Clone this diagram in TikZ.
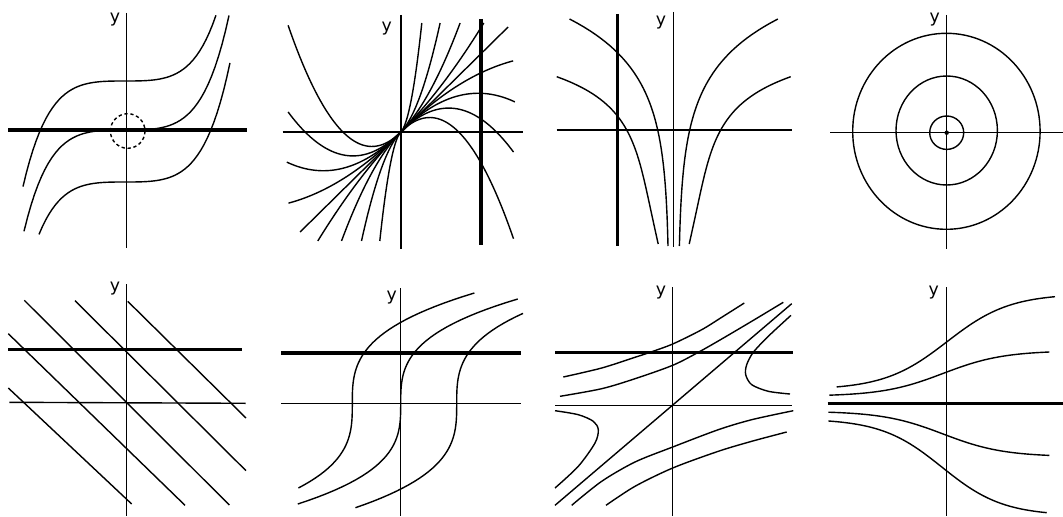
\documentclass[tikz,border=0pt]{standalone}
\usepackage{fontspec}
\setmainfont{DejaVu Sans}
\begin{document}
\begin{tikzpicture}[x=0.75pt,y=-0.75pt,
  ax/.style={line width=1.05pt},
  cv/.style={line width=1.05pt},
  bold/.style={line width=2.6pt},
  lbl/.style={inner sep=0pt, font=\fontsize{13}{14}\selectfont}]
\useasboundingbox (0,0) rectangle (1063,517);

% ---------- Panel 1 ----------
\node[lbl] (ly1) at (115,19.7) {y};
\draw[ax] (126.7,13) -- (126.7,248);
\draw[bold] (8.3,130) -- (246.7,130);
\foreach \yc/\a/\b in {81/-1.02/0.91, 130/-1.01/1.04, 182/-0.86/1.05}
  \draw[cv] plot[domain=\a:\b, samples=60, variable=\t]
    ({125+100*\t},{\yc-(40.3*\t*\t*\t+56.9*\t*\t*\t*\t*\t)});
\draw[cv, dash pattern=on 2.5pt off 2pt] (127.7,131) circle [radius=17.3];

% ---------- Panel 2 ----------
\node[lbl] (ly2) at (386.7,28.3) {y};
\draw[ax] (400.8,15) -- (400.8,249);
\draw[ax] (282.7,132) -- (523,132);
\draw[bold] (481,19) -- (481,245);
\begin{scope}[shift={(400.8,132)}, yscale=-1]
  \foreach \c/\e in {0.1995/21, 0.0451/39.3, 0.01413/59.3, 0.00377/83,
                     -0.00327/112.3, -0.00646/114, -0.01045/112.7, -0.01727/112.7} {
    \draw[cv] plot[domain=0:\e, samples=50, variable=\t] ({\t},{\t+(\c)*\t*\t});
    \draw[cv] plot[domain=0:\e, samples=50, variable=\t] ({-\t},{-\t-(\c)*\t*\t});
  }
  \coordinate (l2a) at (-100.7,-100);
  \coordinate (l2b) at (107.3,105);
  \draw[cv] (l2a) -- (l2b);
\end{scope}

% ---------- Panel 3 ----------
\node[lbl] (ly3) at (661,23) {y};
\draw[ax] (673.7,12) -- (673.7,247);
\draw[ax] (556.7,130) -- (792,130);
\draw[bold] (617.3,14) -- (617.3,246);
\begin{scope}[shift={(673.7,130)}, yscale=-1]
  \foreach \s in {1,-1} {
    \begin{scope}[xscale=\s]
      \draw[cv] plot[domain=-116:111, samples=60, variable=\t] ({4.5+11.5*exp(\t/51.4)},{\t});
      \draw[cv] plot[domain=-114:53.3, samples=60, variable=\t]
        ({exp(3.85+1.172*(\t/100)+0.745*(\t/100)*(\t/100)+0.5*(\t/100)*(\t/100)*(\t/100))},{\t});
    \end{scope}
  }
\end{scope}

% ---------- Panel 4 ----------
\node[lbl] (ly4) at (934.7,20) {y};
\draw[ax] (946.7,15) -- (946.7,249);
\draw[ax] (830,132.7) -- (1062.7,132.7);
\draw[cv] (946.4,131.3) ellipse [x radius=93.7, y radius=98];
\draw[cv] (946.7,130.5) ellipse [x radius=50.7, y radius=54.5];
\draw[cv] (946.7,132.7) ellipse [x radius=17, y radius=16.7];
\fill (946.7,132.7) circle [radius=2.2];

% ---------- Panel 5 ----------
\node[lbl] (ly5) at (115,288.7) {y};
\draw[ax] (126.7,284) -- (126.7,516);
\draw[ax] (9.3,402.3) -- (245.7,403.3);
\draw[bold] (8.3,349.7) -- (242.3,349.7);
\draw[cv] (8.3,388) -- (131.7,504);
\draw[cv] (8.3,333.7) -- (185,505.3);
\draw[cv] (24.3,300.3) -- (229.3,505);
\draw[cv] (75,300.7) -- (246,470.7);
\draw[cv] (127.7,301.3) -- (246,418);

% ---------- Panel 6 ----------
\node[lbl] (ly6) at (391.7,297.7) {y};
\draw[ax] (400.7,288) -- (400.7,516);
\draw[ax] (281,403.7) -- (521,403.7);
\draw[bold] (281,353) -- (521,353);
\begin{scope}[shift={(400.7,403.7)}, yscale=-1]
  \foreach \cx/\A/\a/\b in {-48.4/90/-84.3/110.7, 0/102/-100.3/104.7, 56/90/-104/90.3}
    \draw[cv] plot[domain=\a:\b, samples=60, variable=\t]
      ({\cx+\A*(\t/100)*(\t/100)*(\t/100)},{\t});
\end{scope}

% ---------- Panel 7 ----------
\node[lbl] (ly7) at (661,292.3) {y};
\draw[ax] (672.7,287.3) -- (672.7,516);
\draw[ax] (555,405.3) -- (791.7,405.3);
\draw[bold] (555,352.3) -- (793.3,352.3);
\draw[cv] plot[smooth] coordinates {(563.3,377) (601.7,368) (635,357.3) (650,352.3)
      (672.7,344) (701.7,329.7) (721.7,317.3) (744.3,303)};
\draw[cv] plot[smooth] coordinates {(560,396.3) (601.7,388.7) (635,378.7) (672.7,365.3)
      (698.3,352.3) (721.7,339) (751.7,321.3) (783.3,302.3)};
\coordinate (l7a) at (555,505.3);
\coordinate (l7b) at (791.7,303.7);
\draw[cv] (l7a) -- (l7b);
\draw[cv] plot[smooth] coordinates {(791,315.3) (768.3,336.3) (753.3,352.3) (746.7,364.7)
      (745.7,374.7) (751.7,384.7) (768.3,391.3) (790,394)};
\draw[cv] plot[smooth] coordinates {(555,410.7) (578.3,414.7) (593.3,421.3) (598.3,429.7)
      (595,443) (578.3,466.3) (555,488)};
\draw[cv] plot[smooth] coordinates {(571.7,505.3) (601.7,481.3) (635,462) (672.7,447)
      (718.3,429.7) (751.7,419.7) (793.3,410.7)};
\draw[cv] plot[smooth] coordinates {(606,505.3) (635,486.3) (672.7,468) (718.3,451.3)
      (751.7,441.3) (786.7,432)};

% ---------- Panel 8 ----------
\node[lbl] (ly8) at (933.7,293) {y};
\draw[ax] (946.7,287.3) -- (946.7,516);
\draw[bold] (827.7,403.7) -- (1062.7,403.7);
\draw[cv] plot[domain=836.7:1055, samples=70]
  ({\x},{403.7-(14+96/(1+exp(-(\x-947)/31.4)))});
\draw[cv] plot[domain=829.3:1049.3, samples=70]
  ({\x},{403.7-(7.5+45.5/(1+exp(-(\x-943)/30.2)))});
\draw[cv] plot[domain=828.3:1049.3, samples=70]
  ({\x},{403.7+(7.5+45.5/(1+exp(-(\x-943)/30.2)))});
\draw[cv] plot[domain=828.3:1046.7, samples=70]
  ({\x},{403.7+(15+97/(1+exp(-(\x-942)/30.5)))});
\end{tikzpicture}
\end{document}
